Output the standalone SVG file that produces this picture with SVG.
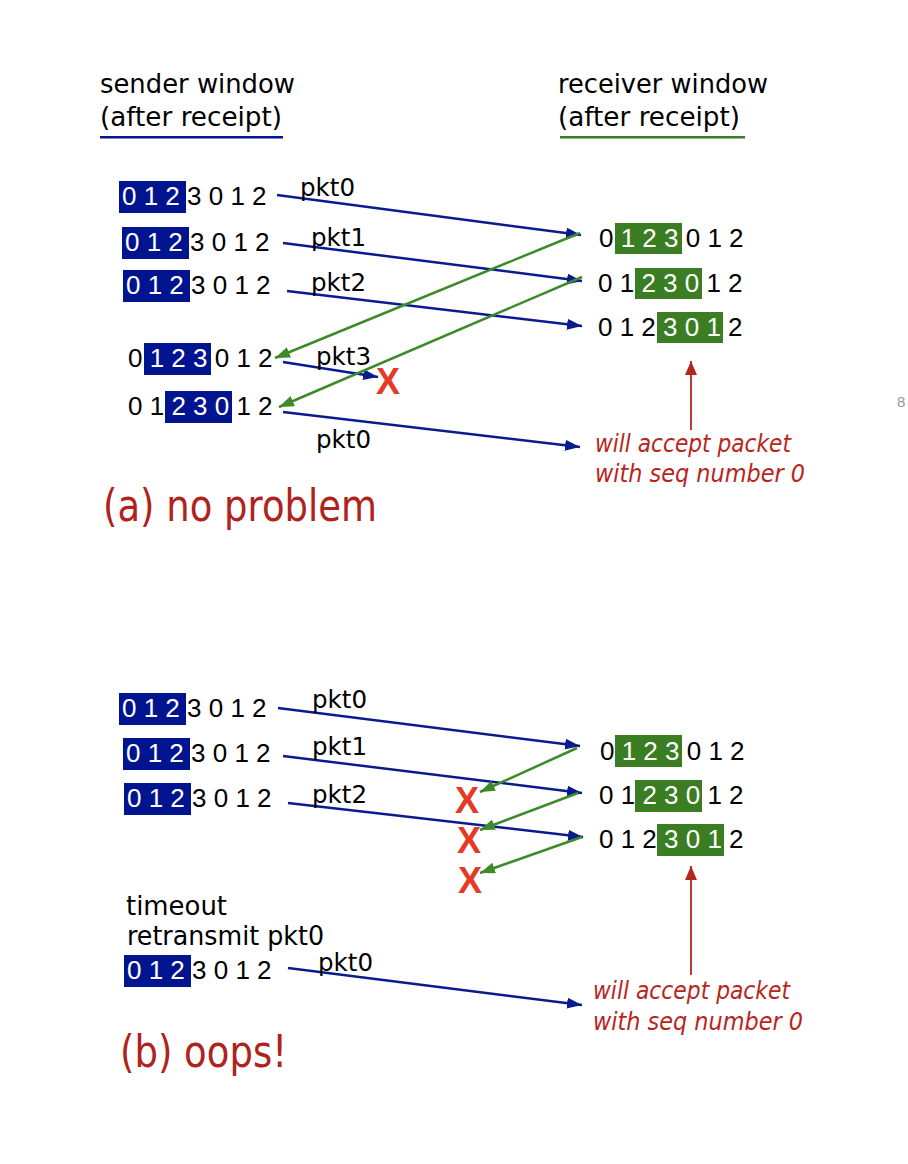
<svg xmlns="http://www.w3.org/2000/svg" width="908" height="1164" viewBox="0 0 908 1164">
<style>
.hd{font-family:"DejaVu Sans","Liberation Sans",sans-serif;font-size:26px;fill:#000}
.pk{font-family:"DejaVu Sans","Liberation Sans",sans-serif;font-size:24px;fill:#000}
.dg{font-family:"Liberation Sans",Arial,sans-serif;font-size:26px;fill:#000}
.w{fill:#fff}
.bb{fill:#00148f}
.gb{fill:#3a7d22}
.note{font-family:"DejaVu Sans","Liberation Sans",sans-serif;font-size:24px;font-style:italic;fill:#b8251d}
.cap{font-family:"DejaVu Sans","Liberation Sans",sans-serif;font-size:45px;fill:#b0231c}
.x{font-family:"Liberation Sans",Arial,sans-serif;font-size:36px;font-weight:bold;fill:#e53a26}
.bl{stroke:#0a1a8f;stroke-width:2.5;fill:none;marker-end:url(#ab)}
.gl{stroke:#3c8a2a;stroke-width:2.5;fill:none;marker-end:url(#ag)}
.rl{stroke:#b3261e;stroke-width:1.8;fill:none;marker-end:url(#ar)}
</style>
<defs>
<marker id="ab" markerUnits="userSpaceOnUse" markerWidth="15" markerHeight="11" refX="15" refY="5.5" orient="auto"><path d="M0,0 L15,5.5 L0,11 z" fill="#0a1a8f"/></marker>
<marker id="ag" markerUnits="userSpaceOnUse" markerWidth="15" markerHeight="11" refX="15" refY="5.5" orient="auto"><path d="M0,0 L15,5.5 L0,11 z" fill="#3c8a2a"/></marker>
<marker id="ar" markerUnits="userSpaceOnUse" markerWidth="14" markerHeight="12" refX="14" refY="6" orient="auto"><path d="M0,0 L14,6 L0,12 z" fill="#b3261e"/></marker>
</defs>

<g id="sender-title">
<text class="hd" x="100" y="93" textLength="195" lengthAdjust="spacingAndGlyphs">sender window</text>
<text class="hd" x="100" y="126" textLength="182" lengthAdjust="spacingAndGlyphs">(after receipt)</text>
<rect x="100" y="136" width="183" height="2.5" fill="#00148f"/>
</g>
<g id="receiver-title">
<text class="hd" x="558" y="93" textLength="210" lengthAdjust="spacingAndGlyphs">receiver window</text>
<text class="hd" x="558" y="126" textLength="182" lengthAdjust="spacingAndGlyphs">(after receipt)</text>
<rect x="560" y="136" width="185" height="2.5" fill="#3a7d22"/>
</g>

<!-- (a) sender rows -->
<g id="a-s1"><rect class="bb" x="119" y="181" width="67" height="32"/><text class="dg" x="122" y="205"><tspan class="w">0 1 2</tspan> 3 0 1 2</text></g>
<g id="a-s2"><rect class="bb" x="122" y="227" width="67" height="32"/><text class="dg" x="125" y="251"><tspan class="w">0 1 2</tspan> 3 0 1 2</text></g>
<g id="a-s3"><rect class="bb" x="123" y="270" width="67" height="32"/><text class="dg" x="126" y="294"><tspan class="w">0 1 2</tspan> 3 0 1 2</text></g>
<g id="a-s4"><rect class="bb" x="144" y="343" width="67" height="32"/><text class="dg" x="128" y="367">0 <tspan class="w">1 2 3</tspan> 0 1 2</text></g>
<g id="a-s5"><rect class="bb" x="165" y="391" width="67" height="32"/><text class="dg" x="128" y="415">0 1 <tspan class="w">2 3 0</tspan> 1 2</text></g>

<!-- (a) receiver rows -->
<g id="a-r1"><rect class="gb" x="615" y="223" width="67" height="31"/><text class="dg" x="599" y="247">0 <tspan class="w">1 2 3</tspan> 0 1 2</text></g>
<g id="a-r2"><rect class="gb" x="635" y="268" width="67" height="31"/><text class="dg" x="598" y="292">0 1 <tspan class="w">2 3 0</tspan> 1 2</text></g>
<g id="a-r3"><rect class="gb" x="657" y="312" width="66" height="31"/><text class="dg" x="598" y="336">0 1 2 <tspan class="w">3 0 1</tspan> 2</text></g>

<g id="a-note">
<text class="note" x="595" y="452" textLength="196" lengthAdjust="spacingAndGlyphs">will accept packet</text>
<text class="note" x="595" y="482" textLength="210" lengthAdjust="spacingAndGlyphs">with seq number 0</text>
</g>
<g id="a-caption"><text class="cap" x="103" y="521" textLength="274" lengthAdjust="spacingAndGlyphs">(a) no problem</text></g>
<g id="a-loss"><text class="x" x="376" y="394">X</text></g>

<!-- (b) sender rows -->
<g id="b-s1"><rect class="bb" x="119" y="693" width="67" height="32"/><text class="dg" x="122" y="717"><tspan class="w">0 1 2</tspan> 3 0 1 2</text></g>
<g id="b-s2"><rect class="bb" x="123" y="738" width="67" height="32"/><text class="dg" x="126" y="762"><tspan class="w">0 1 2</tspan> 3 0 1 2</text></g>
<g id="b-s3"><rect class="bb" x="124" y="783" width="67" height="32"/><text class="dg" x="127" y="807"><tspan class="w">0 1 2</tspan> 3 0 1 2</text></g>
<g id="b-timeout">
<text class="hd" x="126" y="915" textLength="101" lengthAdjust="spacingAndGlyphs">timeout</text>
<text class="hd" x="127" y="945" textLength="197" lengthAdjust="spacingAndGlyphs">retransmit pkt0</text>
</g>
<g id="b-s4"><rect class="bb" x="124" y="955" width="67" height="32"/><text class="dg" x="127" y="979"><tspan class="w">0 1 2</tspan> 3 0 1 2</text></g>

<!-- (b) receiver rows -->
<g id="b-r1"><rect class="gb" x="615" y="735" width="67" height="32"/><text class="dg" x="600" y="760">0 <tspan class="w">1 2 3</tspan> 0 1 2</text></g>
<g id="b-r2"><rect class="gb" x="635" y="780" width="67" height="32"/><text class="dg" x="599" y="804">0 1 <tspan class="w">2 3 0</tspan> 1 2</text></g>
<g id="b-r3"><rect class="gb" x="657" y="824" width="67" height="32"/><text class="dg" x="599" y="848">0 1 2 <tspan class="w">3 0 1</tspan> 2</text></g>

<g id="b-loss">
<text class="x" x="455" y="813">X</text>
<text class="x" x="457" y="853">X</text>
<text class="x" x="458" y="893">X</text>
</g>
<g id="b-note">
<text class="note" x="593" y="999" textLength="197" lengthAdjust="spacingAndGlyphs">will accept packet</text>
<text class="note" x="593" y="1030" textLength="210" lengthAdjust="spacingAndGlyphs">with seq number 0</text>
</g>
<g id="b-caption"><text class="cap" x="120" y="1067" textLength="167" lengthAdjust="spacingAndGlyphs">(b) oops!</text></g>

<g id="page"><text x="897" y="407" font-family="Liberation Sans,sans-serif" font-size="15" fill="#999">8</text></g>

<g id="connectors">
<!-- (a) -->
<line class="bl" x1="277" y1="195" x2="581" y2="235"/>
<line class="bl" x1="283" y1="243" x2="582" y2="281"/>
<line class="bl" x1="287" y1="291" x2="582" y2="326"/>
<line class="bl" x1="283" y1="362" x2="378" y2="377"/>
<line class="bl" x1="283" y1="412" x2="580" y2="447"/>
<line class="gl" x1="580" y1="233" x2="275" y2="358"/>
<line class="gl" x1="582" y1="277" x2="279" y2="407"/>
<line class="rl" x1="691" y1="430" x2="691" y2="361"/>
<!-- (b) -->
<line class="bl" x1="278" y1="708" x2="580" y2="746"/>
<line class="bl" x1="283" y1="756" x2="582" y2="793"/>
<line class="bl" x1="288" y1="803" x2="583" y2="837"/>
<line class="bl" x1="288" y1="968" x2="582" y2="1005"/>
<line class="gl" x1="577" y1="748" x2="480" y2="792"/>
<line class="gl" x1="578" y1="793" x2="480" y2="830"/>
<line class="gl" x1="582" y1="837" x2="480" y2="873"/>
<line class="rl" x1="691" y1="975" x2="691" y2="866"/>
</g>

<g id="labels">
<text class="pk" x="300" y="196" textLength="55" lengthAdjust="spacingAndGlyphs">pkt0</text>
<text class="pk" x="311" y="246" textLength="55" lengthAdjust="spacingAndGlyphs">pkt1</text>
<text class="pk" x="311" y="291" textLength="55" lengthAdjust="spacingAndGlyphs">pkt2</text>
<text class="pk" x="316" y="365" textLength="55" lengthAdjust="spacingAndGlyphs">pkt3</text>
<text class="pk" x="316" y="448" textLength="55" lengthAdjust="spacingAndGlyphs">pkt0</text>
<text class="pk" x="312" y="708" textLength="55" lengthAdjust="spacingAndGlyphs">pkt0</text>
<text class="pk" x="312" y="755" textLength="55" lengthAdjust="spacingAndGlyphs">pkt1</text>
<text class="pk" x="312" y="803" textLength="55" lengthAdjust="spacingAndGlyphs">pkt2</text>
<text class="pk" x="318" y="971" textLength="55" lengthAdjust="spacingAndGlyphs">pkt0</text>
</g>
</svg>
